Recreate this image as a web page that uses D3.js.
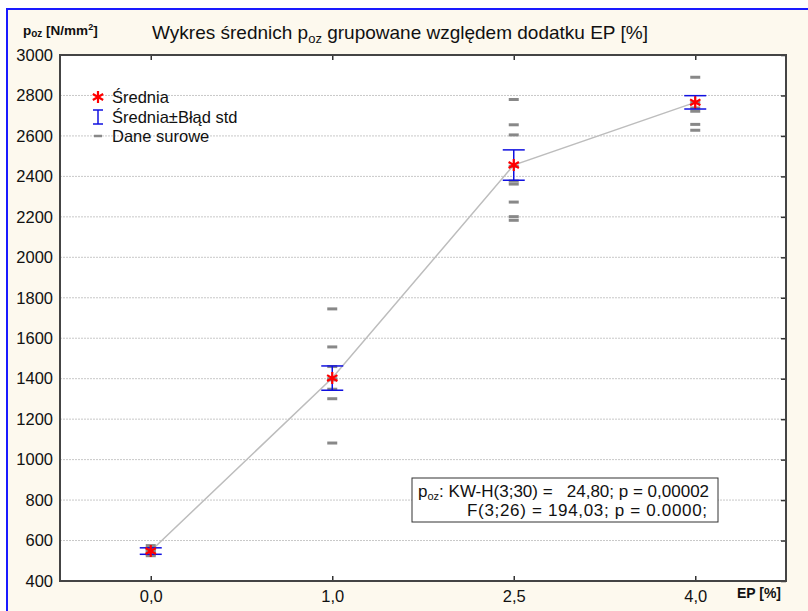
<!DOCTYPE html>
<html>
<head>
<meta charset="utf-8">
<script src="https://cdn.jsdelivr.net/npm/d3@7"></script>
<style>
  body { margin: 0; background: #fff; }
  svg { display: block; font-family: "Liberation Sans", Arial, sans-serif; }
</style>
</head>
<body>
<div id="chart"></div>
<script>
// categories (EP %) and group statistics
const categories = ["0,0", "1,0", "2,5", "4,0"];
const means = [548, 1403, 2456, 2766];
const stdErr = [16, 60, 75, 33];
const rawData = [
  [575, 562, 555, 548, 540, 532, 525],
  [1745, 1557, 1460, 1400, 1394, 1348, 1301, 1082],
  [2780, 2655, 2605, 2450, 2377, 2362, 2273, 2201, 2183],
  [2890, 2766, 2738, 2722, 2657, 2628]
];
const yTicks = d3.range(400, 3001, 200);

const width = 808, height = 611;
const margin = { top: 55, right: 22, bottom: 30, left: 60 };

const svg = d3.select("#chart").append("svg")
  .attr("width", width)
  .attr("height", height);

// background + blue frame
svg.append("rect").attr("x", 0).attr("y", 0).attr("width", width).attr("height", height).attr("fill", "#fff");
svg.append("rect")
  .attr("x", 7).attr("y", 9)
  .attr("width", width + 10).attr("height", height + 10)
  .attr("fill", "#fdf9ee")
  .attr("stroke", "#1a1aff")
  .attr("stroke-width", 2);

const x = d3.scalePoint()
  .domain(categories)
  .range([margin.left, width - margin.right])
  .padding(0.5);

const y = d3.scaleLinear()
  .domain([400, 3000])
  .range([height - margin.bottom, margin.top]);

// plot area
svg.append("rect")
  .attr("x", margin.left).attr("y", margin.top)
  .attr("width", width - margin.right - margin.left)
  .attr("height", height - margin.bottom - margin.top)
  .attr("fill", "#fff");

// grid lines
svg.append("g")
  .selectAll("line")
  .data(yTicks.filter(d => d > 400 && d < 3000))
  .join("line")
  .attr("x1", margin.left).attr("x2", width - margin.right)
  .attr("y1", d => y(d)).attr("y2", d => y(d))
  .attr("stroke", "#c8c8c8")
  .attr("stroke-dasharray", "2,1");

// axes
const axisLeft = svg.append("g")
  .attr("transform", `translate(${margin.left},0)`)
  .call(d3.axisLeft(y).tickValues(yTicks).tickSize(0).tickPadding(7).tickFormat(d3.format("d")));
const axisRight = svg.append("g")
  .attr("transform", `translate(${width - margin.right},0)`)
  .call(d3.axisLeft(y).tickValues(yTicks).tickSize(5).tickFormat(""));
const axisBottom = svg.append("g")
  .attr("transform", `translate(0,${height - margin.bottom})`)
  .call(d3.axisTop(x).tickSize(5).tickFormat(""));
const axisTop = svg.append("g")
  .attr("transform", `translate(0,${margin.top})`)
  .call(d3.axisBottom(x).tickSize(5).tickFormat(""));
const axisBottomLabels = svg.append("g")
  .attr("transform", `translate(0,${height - margin.bottom})`)
  .call(d3.axisBottom(x).tickSize(0).tickPadding(9));

[axisLeft, axisRight, axisBottom, axisTop, axisBottomLabels].forEach(g => {
  g.selectAll(".domain").remove();
  g.selectAll("line").attr("stroke", "#333").attr("stroke-width", 1.5);
  g.selectAll("text").attr("fill", "#111").style("font-size", "16.5px").style("font-family", "'Liberation Sans', Arial, sans-serif");
});

// frame of the plot
svg.append("rect")
  .attr("x", margin.left).attr("y", margin.top)
  .attr("width", width - margin.right - margin.left)
  .attr("height", height - margin.bottom - margin.top)
  .attr("fill", "none")
  .attr("stroke", "#444")
  .attr("stroke-width", 2);

// mean line
svg.append("path")
  .datum(means)
  .attr("fill", "none")
  .attr("stroke", "#bdbdbd")
  .attr("stroke-width", 1.5)
  .attr("d", d3.line().x((d, i) => x(categories[i])).y(d => y(d)));

// raw data dashes
const raw = rawData.flatMap((vals, i) => vals.map(v => ({ cat: categories[i], v })));
svg.append("g")
  .selectAll("line")
  .data(raw)
  .join("line")
  .attr("x1", d => x(d.cat) - 5).attr("x2", d => x(d.cat) + 5)
  .attr("y1", d => y(d.v)).attr("y2", d => y(d.v))
  .attr("stroke", "#888")
  .attr("stroke-width", 3);

// error bars
const eb = svg.append("g").attr("stroke", "#1010e0").attr("stroke-width", 1.5);
means.forEach((m, i) => {
  const cx = x(categories[i]);
  eb.append("line").attr("x1", cx).attr("x2", cx).attr("y1", y(m - stdErr[i])).attr("y2", y(m + stdErr[i]));
  eb.append("line").attr("x1", cx - 11).attr("x2", cx + 11).attr("y1", y(m - stdErr[i])).attr("y2", y(m - stdErr[i]));
  eb.append("line").attr("x1", cx - 11).attr("x2", cx + 11).attr("y1", y(m + stdErr[i])).attr("y2", y(m + stdErr[i]));
});

// mean markers
const star = d3.symbol().type(d3.symbolAsterisk).size(100);
svg.append("g")
  .selectAll("path")
  .data(means)
  .join("path")
  .attr("transform", (d, i) => `translate(${x(categories[i])},${y(d)})`)
  .attr("d", star)
  .attr("fill", "none")
  .attr("stroke", "#ff0000")
  .attr("stroke-width", 2.2);

// title
const title = svg.append("text")
  .attr("x", 400).attr("y", 39)
  .attr("text-anchor", "middle")
  .style("font-size", "19px")
  .attr("fill", "#111");
title.append("tspan").text("Wykres średnich p");
title.append("tspan").attr("dy", 4).style("font-size", "13px").text("oz");
title.append("tspan").attr("dy", -4).text(" grupowane względem dodatku EP [%]");

// y label
const ylab = svg.append("text")
  .attr("x", 23).attr("y", 35)
  .style("font-size", "13.5px").style("font-weight", "bold")
  .attr("fill", "#111");
ylab.append("tspan").text("p");
ylab.append("tspan").attr("dy", 2).style("font-size", "10px").text("oz");
ylab.append("tspan").attr("dy", -2).text(" [N/mm");
ylab.append("tspan").attr("dy", -5).style("font-size", "9px").text("2");
ylab.append("tspan").attr("dy", 5).text("]");

// x label
svg.append("text")
  .attr("x", 781).attr("y", 598)
  .attr("text-anchor", "end")
  .style("font-size", "14px").style("font-weight", "bold")
  .attr("fill", "#111")
  .text("EP [%]");

// legend
const legend = svg.append("g").style("font-size", "16.5px").attr("fill", "#111");
legend.append("path").attr("transform", "translate(98,97)").attr("d", star)
  .attr("fill", "none").attr("stroke", "#ff0000").attr("stroke-width", 2.2);
legend.append("text").attr("x", 112).attr("y", 103).text("Średnia");
const lg = legend.append("g").attr("stroke", "#1010e0").attr("stroke-width", 1.5);
lg.append("line").attr("x1", 98).attr("x2", 98).attr("y1", 110).attr("y2", 124);
lg.append("line").attr("x1", 93).attr("x2", 103).attr("y1", 110).attr("y2", 110);
lg.append("line").attr("x1", 93).attr("x2", 103).attr("y1", 124).attr("y2", 124);
legend.append("text").attr("x", 112).attr("y", 123).text("Średnia±Błąd std");
legend.append("line").attr("x1", 94).attr("x2", 102).attr("y1", 136).attr("y2", 136)
  .attr("stroke", "#888").attr("stroke-width", 2.5);
legend.append("text").attr("x", 112).attr("y", 142).text("Dane surowe");

// stats box
svg.append("rect")
  .attr("x", 412).attr("y", 478).attr("width", 306).attr("height", 44)
  .attr("fill", "#fff").attr("stroke", "#333").attr("stroke-width", 1);
const s1 = svg.append("text").attr("x", 418).attr("y", 497)
  .attr("xml:space", "preserve")
  .style("font-size", "17px").attr("fill", "#111");
s1.append("tspan").text("p");
s1.append("tspan").attr("dy", 3).style("font-size", "11px").text("oz");
s1.append("tspan").attr("dy", -3).text(": KW-H(3;30) =   24,80; p = 0,00002");
svg.append("text").attr("x", 467).attr("y", 516)
  .attr("textLength", 240).attr("lengthAdjust", "spacing")
  .style("font-size", "17px").attr("fill", "#111")
  .text("F(3;26) = 194,03; p = 0.0000;");
</script>
</body>
</html>
